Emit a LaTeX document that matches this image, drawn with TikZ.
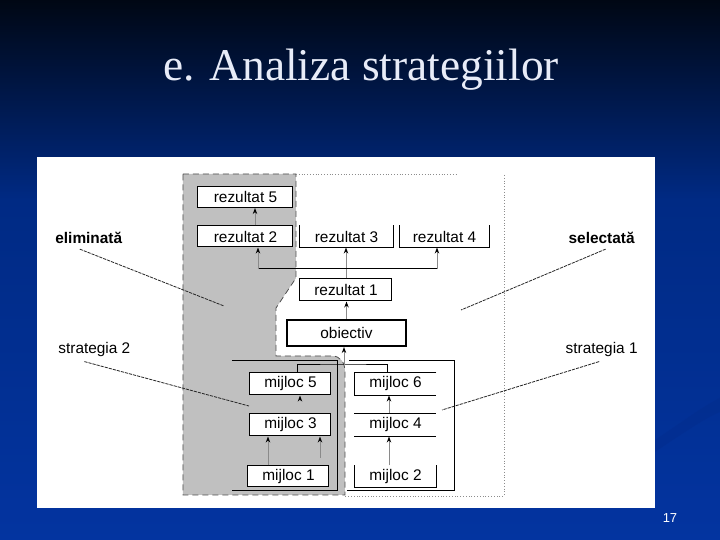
\documentclass[tikz,border=0pt]{standalone}
\usepackage{fontspec}
\setmainfont{Liberation Serif}
\newfontfamily\arial{Liberation Sans}
\usetikzlibrary{calc,arrows.meta}
\definecolor{slideTop}{HTML}{000714}
\definecolor{slideMid}{HTML}{002A84}
\definecolor{slideBlue}{HTML}{0334A0}
\definecolor{slideDeep}{HTML}{022C8C}
\definecolor{titleWhite}{HTML}{E8ECF8}
\definecolor{zoneGray}{HTML}{C0C0C0}
\definecolor{lineGray}{HTML}{8A8A8A}
\newcommand\lbl{\arial\fontsize{7.7}{9.2}\selectfont}

\begin{document}
\begin{tikzpicture}[x=0.5pt,y=-0.5pt,
      box/.style={draw, fill=white, line width=0.5pt, inner sep=0pt,
                  minimum height=#1, font=\lbl},
      box/.default=10.5pt,
      openbox/.style={box=#1, draw=none},
      openbox/.default=11pt,
      side/.style={inner sep=0pt, font=\lbl},
      arr/.style={draw=lineGray, line width=0.45pt,
                  -{Stealth[length=3pt,width=2.2pt,color=black]}},
      link/.style={draw=black, line width=0.5pt},
      lead/.style={draw=black!85, line width=0.4pt, dash pattern=on 1.6pt off 0.5pt},
      zone/.style={fill=zoneGray, draw=black!70, line width=0.4pt, densely dashed},
      outer/.style={draw=black!45, line width=0.4pt, densely dotted}]
    % slide background
    \useasboundingbox (0,0) rectangle (720,540);
    \shade[top color=slideTop, bottom color=slideMid] (0,0) rectangle (720,200);
    \shade[top color=slideMid, bottom color=slideBlue] (0,200) rectangle (720,540);
    \fill[slideDeep, opacity=0.45] (655,440) .. controls (685,420) and (705,405) .. (720,398)
      -- (720,412) .. controls (705,418) and (685,432) .. (655,452) -- cycle;
    \node[font=\fontsize{22.7}{26}\selectfont, text=titleWhite] (title) at (361,70)
      {e. Analiza strategiilor};
    \fill[white] (37,157) rectangle (655,508);
    \node[font=\arial\fontsize{6.5}{8}\selectfont, text=white] (page) at (670,518) {17};
    % eliminated zone and frame
    \path[zone] (183,174) -- (296,174) -- (296,278) -- (276,308) -- (276,356) -- (332,356)
      .. controls (340,356) and (345,362) .. (345,372) -- (345,495) -- (183,495) -- cycle;
    \draw[outer] (296,174) -- (458,174);
    \draw[outer] (504,175) -- (504,496) -- (345,496);
    \draw[link] (232,361) -| (338,491) -- (232,491);
    \draw[link] (349,361) -| (455,491) -- (347,491);
    % results
    \node[box, minimum width=47.5pt] (r5) at (245.5,197)   {rezultat 5};
    \node[box, minimum width=47.5pt] (r2) at (245.5,236.5) {rezultat 2};
    \node[openbox=10.5pt, minimum width=46.5pt] (r3) at (346.5,236.5) {rezultat 3};
    \node[openbox=10.5pt, minimum width=44.5pt] (r4) at (444.5,236.5) {rezultat 4};
    \draw[link] (r3.north west) -- (r3.south west) -- (r3.south east) -- (r3.north east);
    \draw[link] (r4.north west) -- (r4.south west) -- (r4.south east) -- (r4.north east);
    \node[box=11pt, minimum width=46pt] (r1) at (346,290) {rezultat 1};
    \node[box=13pt, minimum width=59.5pt, line width=1pt] (ob) at (346.5,333) {obiectiv};
    % means
    \node[box=11pt, minimum width=40.5pt] (m5) at (290.5,384)   {mijloc 5};
    \node[box=11pt, minimum width=40.5pt] (m3) at (290.5,425)   {mijloc 3};
    \node[box, minimum width=40.5pt]      (m1) at (288.5,476.5) {mijloc 1};
    \node[openbox, minimum width=40.5pt]  (m6) at (395.5,384)   {mijloc 6};
    \node[openbox, minimum width=40.5pt]  (m4) at (395.5,425)   {mijloc 4};
    \node[openbox=10.5pt, minimum width=40.5pt] (m2) at (395.5,476.5) {mijloc 2};
    \draw[link] (m6.north east) -- (m6.north west) -- (m6.south west) -- (m6.south east);
    \draw[link] (m4.north west) -- (m4.north east) (m4.south west) -- (m4.south east);
    \draw[link] (m2.north west) -- (m2.south west) -- (m2.south east) -- (m2.north east);
    % connectors above the objective
    \draw[arr] (ob.north) -- (ob.north |- r1.south);
    \draw[arr] (r1.north) -- (r1.north |- r3.south);
    \coordinate (hubL) at (258,269);
    \coordinate (hubR) at (437,269);
    \draw[link] (hubL) -- (hubR);
    \draw[arr] (hubL) -- (hubL |- r2.south);
    \draw[arr] (hubR) -- (hubR |- r4.south);
    \coordinate (up5) at ([xshift=4.75pt]r2.north);
    \draw[arr] (up5) -- (up5 |- r5.south);
    % connectors below the objective
    \coordinate (jn) at (344,365);
    \draw[link] ([xshift=3.75pt]m5.north) |- (jn) -| ([xshift=-3.75pt]m6.north);
    \draw[arr] (jn) -- (jn |- ob.south);
    \coordinate (a0) at ([shift={(9.5,6)}]m5.south);
    \draw[arr] (a0) -- (a0 |- m5.south);
    \coordinate (a1) at ([xshift=-10.25pt]m1.north);
    \draw[arr] (a1) -- (a1 |- m3.south);
    \coordinate (a2) at (320,458);
    \draw[arr] (a2) -- (a2 |- m3.south);
    \coordinate (a3) at ([xshift=-3.25pt]m2.north);
    \draw[arr] (a3) -- (a3 |- m4.south);
    \coordinate (a4) at ([xshift=-3.25pt]m4.north);
    \draw[arr] (a4) -- (a4 |- m6.south);
    % side labels
    \node[side, anchor=west, font=\lbl\bfseries] (elim) at (55,238)  {eliminată};
    \node[side, anchor=east, font=\lbl\bfseries] (sel)  at (635,238) {selectată};
    \node[side, anchor=west] (st2) at (58,350)  {strategia 2};
    \node[side, anchor=east] (st1) at (638,350) {strategia 1};
    \coordinate (elimT) at (224,306);
    \coordinate (selT)  at (461,310);
    \coordinate (st2T)  at (249,406);
    \coordinate (st1T)  at (442,410);
    \draw[lead] ([shift={(-9,5)}]elim.south) -- (elimT);
    \draw[lead] ([shift={(4,5)}]sel.south) -- (selT);
    \draw[lead] ([shift={(-10,4)}]st2.south) -- (st2T);
    \draw[lead] ([shift={(-2.5,4)}]st1.south) -- (st1T);
  \end{tikzpicture}
\end{document}
